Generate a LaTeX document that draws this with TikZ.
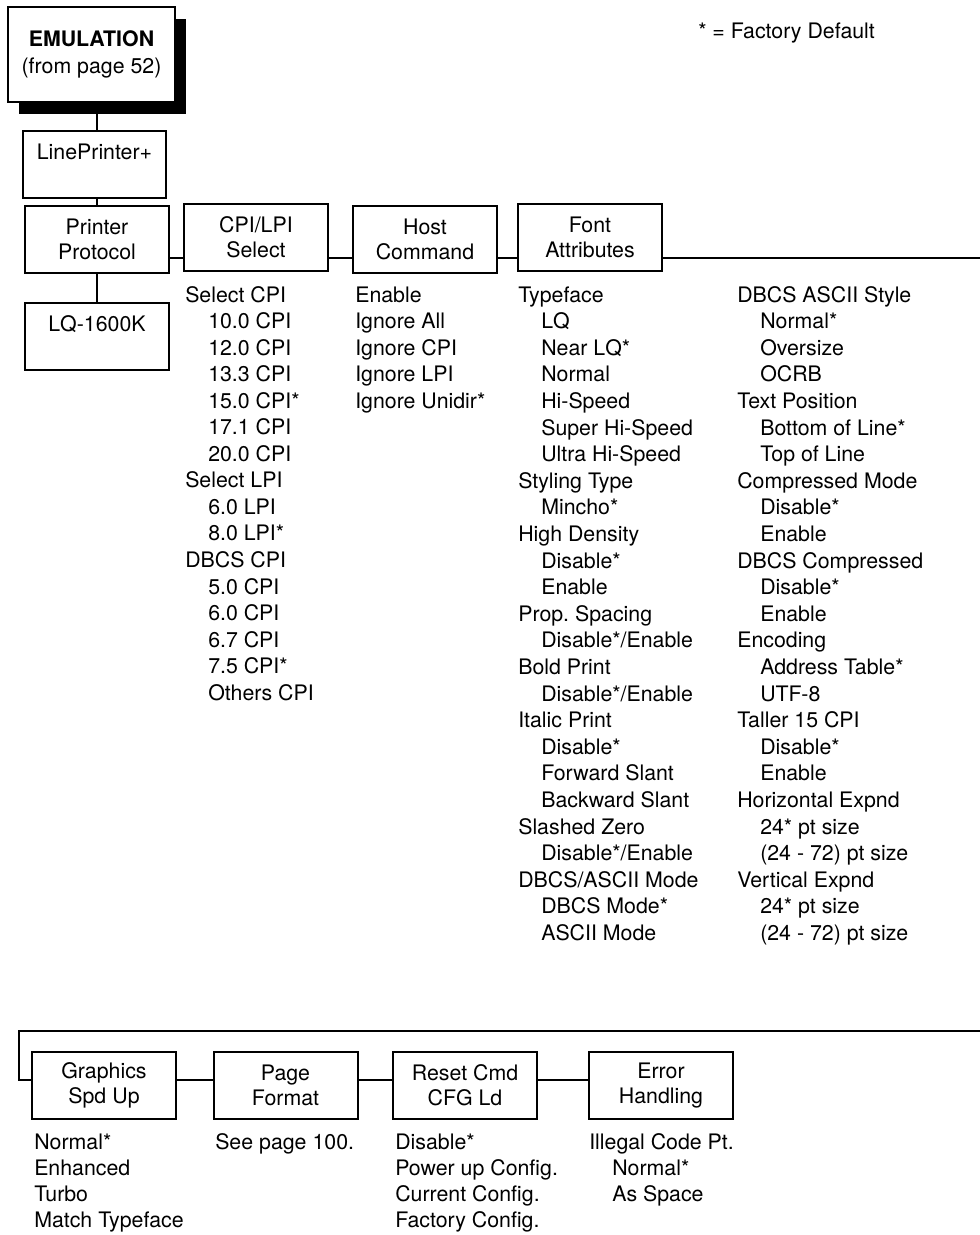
\documentclass[tikz,border=0pt]{standalone}
\usepackage{fontspec}
\setmainfont{TeX Gyre Heros}
\usetikzlibrary{shadows}
\frenchspacing
\tikzset{
  box/.style={draw, line width=1.5pt, fill=white, minimum width=108pt, minimum height=50.25pt,
    inner sep=0pt, align=center, font=\fontsize{16pt}{19pt}\selectfont},
  conn/.style={line width=1.5pt},
  lst/.style={anchor=base west, inner sep=0pt, font=\fontsize{16pt}{18pt}\selectfont\frenchspacing},
}
\newcommand\ind{\hspace*{17.25pt}}
\newcommand\itemlist[5]{% name, x, y of first baseline, step, items
  \foreach \txt [count=\i from 0] in {#5} {\node[lst] (#1\i) at (#2, #3+\i*#4) {\txt};}
}
\begin{document}
\begin{tikzpicture}[x=0.75pt, y=-0.75pt]
\useasboundingbox (0,0) rectangle (980,1235);

% boxes
\node[box, minimum width=125.25pt, minimum height=71.25pt,
      font=\fontsize{16pt}{20.25pt}\selectfont,
      drop shadow={opacity=1, fill=black, shadow xshift=8.25pt, shadow yshift=-9pt}]
      (emu) at (91.5,54.5) {\textbf{EMULATION}\\(from page 52)};
\node[box, minimum width=107.25pt] (lp) at (94.5,164.5) {LinePrinter+\\ \mbox{}};
\node[box] (pp) at (97,239.5) {Printer\\Protocol};
\node[box] (lq) at (97,336.5) {LQ-1600K\\ \mbox{}};
\node[box] (cpi) at (256,237.5) {CPI/LPI\\Select};
\node[box] (host) at (425,239.5) {Host\\Command};
\node[box] (font) at (590,237.5) {Font\\Attributes};
\node[box] (gfx) at (104,1085.5) {Graphics\\Spd Up};
\node[box] (page) at (285.5,1085.5) {Page\\Format};
\node[box] (reset) at (465,1085.5) {Reset Cmd\\CFG Ld};
\node[box] (err) at (661,1085.5) {Error\\Handling};

% connector levels
\coordinate (h1) at (0,258);
\coordinate (h2) at (0,1080);
\coordinate (vx) at (97,0);
\coordinate (re) at (980,258);
\coordinate (b1) at (980,1031);
\coordinate (b2) at (19,1031);

% connectors
\draw[conn] (vx |- emu.south) -- (vx |- lp.north);
\draw[conn] (vx |- lp.south) -- (vx |- pp.north);
\draw[conn] (vx |- pp.south) -- (vx |- lq.north);
\draw[conn] (pp.east |- h1) -- (cpi.west |- h1);
\draw[conn] (cpi.east |- h1) -- (host.west |- h1);
\draw[conn] (host.east |- h1) -- (font.west |- h1);
\draw[conn] (font.east |- h1) -- (re);
\draw[conn] (b1) -- (b2) |- (gfx.west |- h2);
\draw[conn] (gfx.east |- h2) -- (page.west |- h2);
\draw[conn] (page.east |- h2) -- (reset.west |- h2);
\draw[conn] (reset.east |- h2) -- (err.west |- h2);

% legend
\node[lst] (legend) at (698,38) {* = Factory Default};

% option lists
\itemlist{cpiL}{185}{302}{26.55}{Select CPI, \ind 10.0 CPI, \ind 12.0 CPI, \ind 13.3 CPI, \ind 15.0 CPI*, \ind 17.1 CPI, \ind 20.0 CPI, Select LPI, \ind 6.0 LPI, \ind 8.0 LPI*, DBCS CPI, \ind 5.0 CPI, \ind 6.0 CPI, \ind 6.7 CPI, \ind 7.5 CPI*, \ind Others CPI}
\itemlist{hostL}{355}{302}{26.55}{Enable, Ignore All, Ignore CPI, Ignore LPI, Ignore Unidir*}
\itemlist{fontL}{518}{302}{26.6}{Typeface, \ind LQ, \ind Near LQ*, \ind Normal, \ind Hi-Speed, \ind Super Hi-Speed, \ind Ultra Hi-Speed, Styling Type, \ind Mincho*, High Density, \ind Disable*, \ind Enable, Prop. Spacing, \ind Disable*/Enable, Bold Print, \ind Disable*/Enable, Italic Print, \ind Disable*, \ind Forward Slant, \ind Backward Slant, Slashed Zero, \ind Disable*/Enable, DBCS/ASCII Mode, \ind DBCS Mode*, \ind ASCII Mode}
\itemlist{attrL}{737}{302}{26.6}{DBCS ASCII Style, \ind Normal*, \ind Oversize, \ind OCRB, Text Position, \ind Bottom of Line*, \ind Top of Line, Compressed Mode, \ind Disable*, \ind Enable, DBCS Compressed, \ind Disable*, \ind Enable, Encoding, \ind Address Table*, \ind UTF-8, Taller 15 CPI, \ind Disable*, \ind Enable, Horizontal Expnd, \ind 24* pt size, {\ind (24 - 72) pt size}, Vertical Expnd, \ind 24* pt size, {\ind (24 - 72) pt size}}
\itemlist{gfxL}{34}{1149}{26.3}{Normal*, Enhanced, Turbo, Match Typeface}
\itemlist{pageL}{215}{1149}{26.3}{See page 100.}
\itemlist{resetL}{395}{1149}{26.3}{Disable*, Power up Config., Current Config., Factory Config.}
\itemlist{errL}{589}{1149}{26.3}{Illegal Code Pt., \ind Normal*, \ind As Space}
\end{tikzpicture}
\end{document}
